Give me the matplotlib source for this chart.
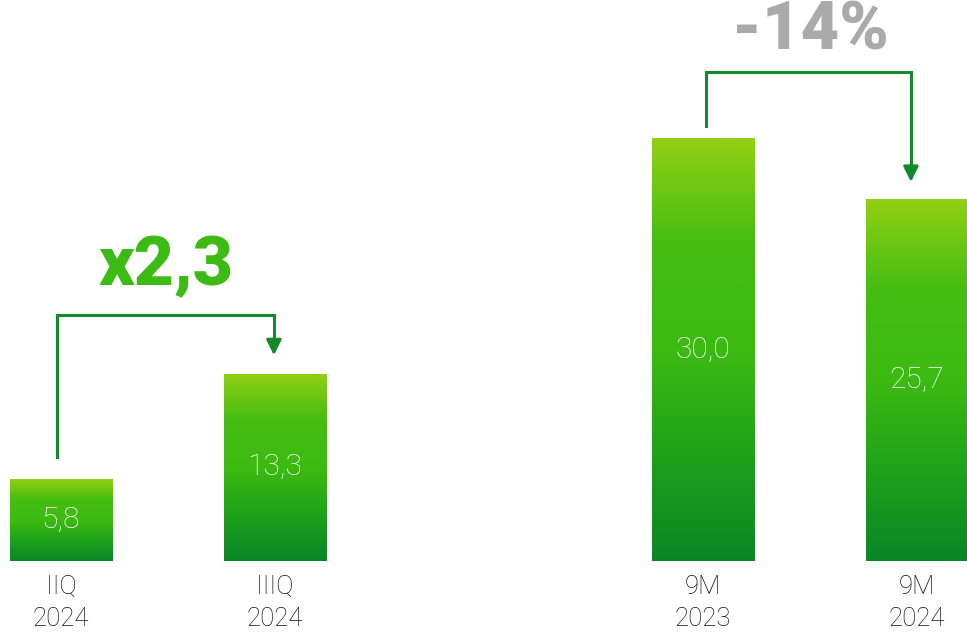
import matplotlib
matplotlib.use("Agg")
import matplotlib.pyplot as plt
import numpy as np
from matplotlib.colors import LinearSegmentedColormap

# data
periods = ['IIQ\n2024', 'IIIQ\n2024', '9M\n2023', '9M\n2024']
values = [5.8, 13.3, 30.0, 25.7]
value_labels = ['5,8', '13,3', '30,0', '25,7']
positions = [0, 1, 3, 4]
changes = ['x2,3', '-14%']

plt.rcParams['font.family'] = ['Roboto', 'DejaVu Sans']

grad = LinearSegmentedColormap.from_list('g', ['#0a8626', '#1ea21a', '#3dba12', '#45bd12', '#92d014'])

fig = plt.figure(figsize=(9.67, 6.32), dpi=100)
ax = fig.add_axes([0, 0, 1, 1])
ax.axis('off')

bar_w = 0.48
bars = ax.bar(positions, values, width=bar_w, color='none', edgecolor='none')
ramp = np.linspace(0, 1, 256).reshape(-1, 1)
for b, v, lab, per in zip(bars, values, value_labels, periods):
    x0 = b.get_x()
    im = ax.imshow(ramp, cmap=grad, origin='lower', aspect='auto',
                   extent=[x0, x0 + bar_w, 0, v], zorder=2)
    im.set_clip_path(b)
    cx = x0 + bar_w / 2
    ax.text(cx, v / 2, lab, color='white', fontsize=21.5, fontweight='light',
            ha='center', va='center', zorder=5)
    ax.text(cx, -1.0, per, color='#111111', fontsize=18.5, fontweight='light',
            ha='center', va='top', linespacing=1.4)

ax.set_xlim(-0.285, 4.234)
ax.set_ylim(-5.04, 39.8)

arrow_c = '#118a2a'

def bracket(x1, y1, x2, ytop, y2):
    ax.plot([x1, x1, x2, x2], [y1, ytop, ytop, y2 + 0.9], color=arrow_c, lw=2.2,
            solid_joinstyle='miter', zorder=4)
    ax.annotate('', xy=(x2, y2), xytext=(x2, y2 + 1.2),
                arrowprops=dict(arrowstyle='-|>,head_length=0.9,head_width=0.45',
                                color=arrow_c, lw=2.2, shrinkA=0, shrinkB=0))

bracket(-0.019, 7.4, 0.995, 17.45, 14.6)
bracket(3.014, 30.85, 3.972, 34.7, 26.9)

ax.text(0.49, 20.9, changes[0], color='#3cbb14', fontsize=50, fontweight='black',
        ha='center', va='center')
ax.text(3.5, 37.6, changes[1], color='#aaaaaa', fontsize=48, fontweight='black',
        ha='center', va='center')

fig.savefig('out.png', dpi=100)
